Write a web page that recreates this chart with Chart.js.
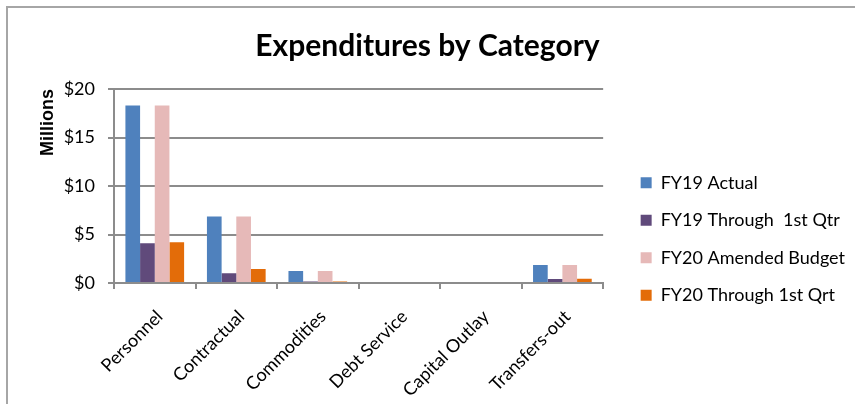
<!DOCTYPE html>
<html>
<head>
<meta charset="utf-8">
<script src="https://cdn.jsdelivr.net/npm/chart.js@4/dist/chart.umd.min.js"></script>
<style>
  html, body { margin: 0; padding: 0; background: #fff; }
  #wrap { width: 855px; height: 404px; }
</style>
</head>
<body>
<div id="wrap"><canvas id="expChart" width="855" height="404"></canvas></div>
<script>
// values in millions
var categories = ['Personnel', 'Contractual', 'Commodities', 'Debt Service', 'Capital Outlay', 'Transfers-out'];
var fy19Actual = [18.3, 6.85, 1.25, 0, 0, 1.85];
var fy19Q1 = [4.1, 1.0, 0.15, 0, 0, 0.4];
var fy20Budget = [18.3, 6.85, 1.25, 0, 0, 1.85];
var fy20Q1 = [4.2, 1.45, 0.15, 0, 0, 0.45];
var seriesNames = ['FY19 Actual', 'FY19 Through  1st Qtr', 'FY20 Amended Budget', 'FY20 Through 1st Qrt'];
var yTicks = [0, 5, 10, 15, 20];

var axisGray = '#8c8c8c';

var framePlugin = {
    id: 'frame',
    beforeDraw: function (chart) {
        var ctx = chart.ctx;
        ctx.save();
        ctx.fillStyle = '#fff';
        ctx.fillRect(0, 0, chart.width, chart.height);
        ctx.strokeStyle = '#a6a6a6';
        ctx.lineWidth = 2;
        ctx.beginPath();
        ctx.moveTo(7, chart.height);
        ctx.lineTo(7, 7);
        ctx.lineTo(chart.width, 7);
        ctx.stroke();
        ctx.restore();
    }
};

function makeSet(label, data, color) {
    return { label: label, data: data, backgroundColor: color, borderWidth: 0 };
}

var canvas = document.getElementById('expChart');
var chart = new Chart(canvas, {
    type: 'bar',
    data: {
        labels: categories,
        datasets: [
            makeSet(seriesNames[0], fy19Actual, '#4f81bd'),
            makeSet(seriesNames[1], fy19Q1, '#604a7b'),
            makeSet(seriesNames[2], fy20Budget, '#e6b9b8'),
            makeSet(seriesNames[3], fy20Q1, '#e36c09')
        ]
    },
    options: {
        responsive: false,
        animation: false,
        events: [],
        datasets: { bar: { categoryPercentage: 0.72, barPercentage: 1 } },
        layout: { padding: 0 },
        plugins: {
            title: {
                display: true,
                text: 'Expenditures by Category',
                color: '#000',
                font: { family: 'Lato', size: 30, weight: 'bold' },
                padding: { top: 28.6, bottom: 24.4 }
            },
            legend: {
                position: 'right',
                maxWidth: 300,
                title: { display: true, text: ' ', font: { size: 10 }, padding: { top: 62, bottom: 0 } },
                labels: {
                    boxWidth: 11,
                    boxHeight: 11,
                    padding: 19.5,
                    color: '#000',
                    font: { family: 'Lato', size: 18 }
                }
            },
            tooltip: { enabled: false }
        },
        scales: {
            x: {
                afterFit: function (scale) { scale.height = 121; },
                grid: { display: true, drawOnChartArea: false, offset: true, tickLength: 6, color: axisGray, lineWidth: 2 },
                border: { display: true, color: axisGray, width: 2 },
                ticks: {
                    maxRotation: 45, minRotation: 45, padding: 17, labelOffset: 5,
                    color: '#000',
                    font: { family: 'Lato', size: 18 }
                }
            },
            y: {
                min: 0,
                max: 20,
                afterFit: function (scale) { scale.width = 114; },
                afterBuildTicks: function (scale) {
                    scale.ticks = yTicks.map(function (v) { return { value: v }; });
                },
                grid: { color: axisGray, lineWidth: 2, tickLength: 6 },
                border: { display: true, color: axisGray, width: 2 },
                ticks: {
                    padding: 13,
                    color: '#000',
                    font: { family: 'Lato', size: 18 },
                    callback: function (v) { return '$' + v; }
                },
                title: {
                    display: true,
                    text: 'Millions',
                    align: 'end',
                    color: '#000',
                    font: { family: 'Liberation Sans', size: 18, weight: 'bold' },
                    padding: { top: 37, bottom: 0 }
                }
            },
            // empty axis, only keeps a gap between the plot and the legend
            gap: {
                type: 'linear',
                position: 'right',
                afterFit: function (scale) { scale.width = 18; },
                ticks: { display: false },
                grid: { display: false },
                border: { display: false }
            }
        }
    },
    plugins: [framePlugin]
});
</script>
</body>
</html>
